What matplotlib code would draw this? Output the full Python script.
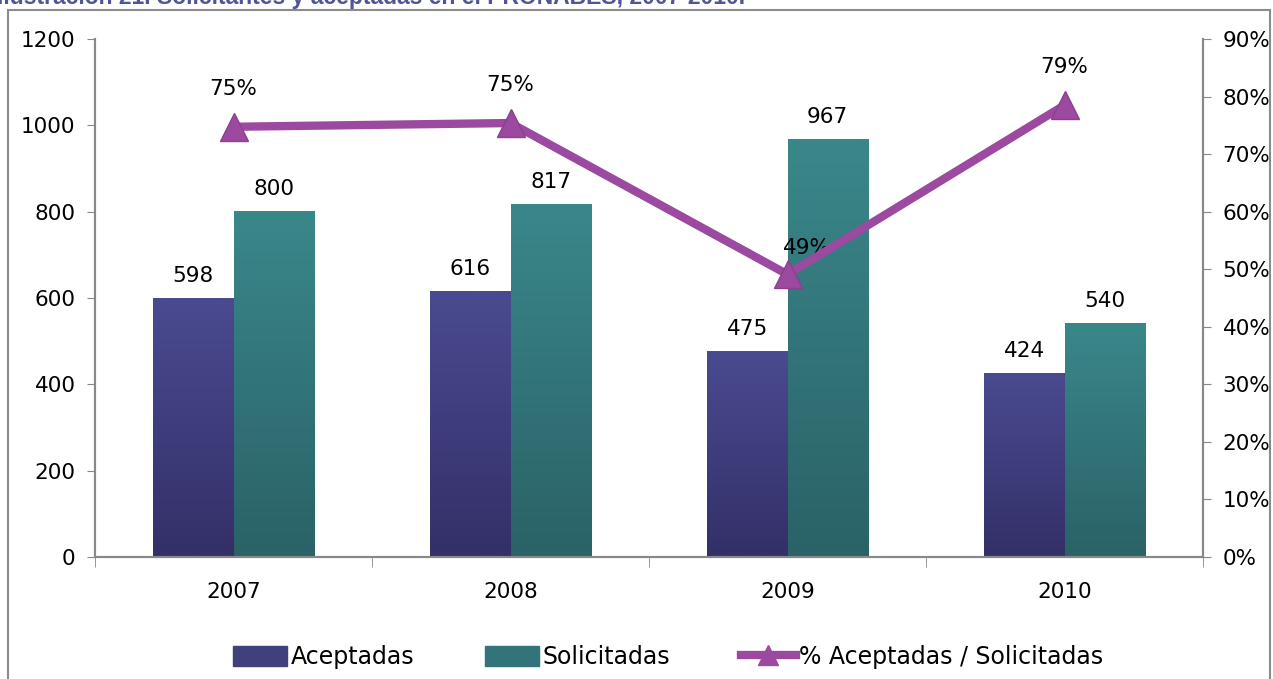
import matplotlib
matplotlib.use("Agg")
import matplotlib.pyplot as plt
import numpy as np
from matplotlib.patches import Rectangle
from matplotlib.lines import Line2D
from matplotlib.ticker import FuncFormatter, FixedLocator

years = ["2007", "2008", "2009", "2010"]
aceptadas = [598, 616, 475, 424]
solicitadas = [800, 817, 967, 540]
porcentaje = [0.7475, 0.754, 0.491, 0.785]
pct_labels = ["75%", "75%", "49%", "79%"]

W, H = 1273, 679
fig = plt.figure(figsize=(W / 100, H / 100), dpi=100)
plt.rcParams['font.family'] = ['DejaVu Sans']

# outer frame and cropped caption
fig.patches.append(Rectangle((8 / W, -0.05), (1270 - 8) / W, 1 - 10 / H + 0.05,
                             transform=fig.transFigure, fill=False,
                             edgecolor='#8c8c8c', linewidth=1.5))
fig.text(-3 / W, 1 - 4 / H, "Ilustración 21. Solicitantes y aceptadas en el PRONABES, 2007-2010.",
         color='#4f5597', fontsize=16.5, fontweight='bold', family='Liberation Sans',
         va='baseline', ha='left')

ax = fig.add_axes([95 / W, 1 - 557 / H, (1203 - 95) / W, (557 - 39) / H])
ax2 = ax.twinx()

x = np.arange(len(years))
bw = 0.29
col_a_top, col_a_bot = np.array([0x4a, 0x4a, 0x90]) / 255, np.array([0x33, 0x30, 0x68]) / 255
col_s_top, col_s_bot = np.array([0x3a, 0x87, 0x8a]) / 255, np.array([0x2a, 0x62, 0x67]) / 255

bars_a = ax.bar(x - bw / 2, aceptadas, bw, color=tuple((col_a_top + col_a_bot) / 2), zorder=2)
bars_s = ax.bar(x + bw / 2, solicitadas, bw, color=tuple((col_s_top + col_s_bot) / 2), zorder=2)

def gradient(bars, ctop, cbot):
    for b in bars:
        x0, y0 = b.get_x(), b.get_y()
        w, h = b.get_width(), b.get_height()
        t = np.linspace(0, 1, 64)[:, None]
        img = (ctop[None, None, :] * (1 - t[..., None]) + cbot[None, None, :] * t[..., None])
        img = np.repeat(img, 2, axis=1)
        ax.imshow(img, extent=(x0, x0 + w, y0, y0 + h), aspect='auto', zorder=2.1,
                  origin='upper', interpolation='bilinear')

gradient(bars_a, col_a_top, col_a_bot)
gradient(bars_s, col_s_top, col_s_bot)

for b, v in zip(list(bars_a) + list(bars_s), aceptadas + solicitadas):
    ax.annotate(str(v), (b.get_x() + b.get_width() / 2, v), xytext=(0, 9),
                textcoords='offset points', ha='center', va='bottom', fontsize=15.5)

ax.set_xlim(-0.5, 3.5)
ax.set_ylim(0, 1200)
ax.set_yticks(range(0, 1201, 200))
ax.set_xticks(x)
ax.set_xticklabels(years)
ax.xaxis.set_minor_locator(FixedLocator([-0.5, 0.5, 1.5, 2.5, 3.5]))
ax.tick_params(axis='x', which='major', length=0, pad=18, labelsize=15.5)
ax.tick_params(axis='x', which='minor', length=7, color='#888888', direction='out')
ax.tick_params(axis='y', length=6, color='#888888', labelsize=15.5, pad=8)

for a in (ax, ax2):
    for s in a.spines.values():
        s.set_color('#888888')
        s.set_linewidth(1.5)
    a.spines['top'].set_visible(False)

ax2.plot(x, porcentaje, color='#9b4aa0', linewidth=6, marker='^', markersize=20,
         markerfacecolor='#9b4aa0', markeredgecolor='#8a3f90', zorder=5)
ax2.set_ylim(0, 0.9)
ax2.set_yticks(np.arange(0, 0.91, 0.1))
ax2.yaxis.set_major_formatter(FuncFormatter(lambda v, p: f"{v*100:.0f}%"))
ax2.tick_params(axis='y', length=6, color='#888888', labelsize=15.5, pad=8)
ax2.set_zorder(ax.get_zorder() + 1)
ax2.patch.set_visible(False)

offsets = [(0, 20), (0, 20), (14, 12), (0, 20)]
for xi, p, lab, off in zip(x, porcentaje, pct_labels, offsets):
    ax2.annotate(lab, (xi, p), xytext=off, textcoords='offset points',
                 ha='center', va='bottom', fontsize=15.5)

handles = [Rectangle((0, 0), 1, 1, color='#40407c'),
           Rectangle((0, 0), 1, 1, color='#327479'),
           Line2D([0], [0], color='#9b4aa0', linewidth=6, marker='^', markersize=14)]
fig.legend(handles, ["Aceptadas", "Solicitadas", "% Aceptadas / Solicitadas"],
           loc='center', bbox_to_anchor=(668 / W, 1 - 657 / H), ncol=3, frameon=False,
           fontsize=17, handlelength=2.3, handleheight=0.9, handletextpad=0.15,
           columnspacing=3.0)

fig.savefig("out.png", dpi=100)
